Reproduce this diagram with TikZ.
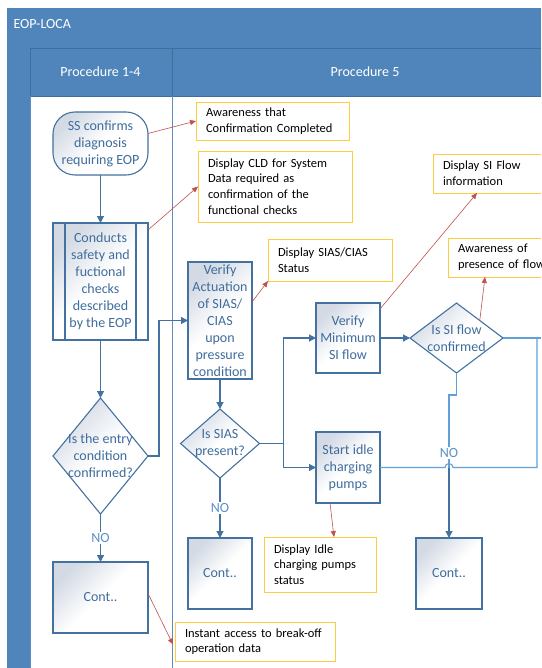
\documentclass[tikz,border=0pt]{standalone}
\usepackage{fontspec}
\setmainfont{Carlito}
\usetikzlibrary{shapes.geometric,arrows.meta}
\definecolor{poolblue}{HTML}{4F85BA}
\definecolor{poolline}{HTML}{3E6E9C}
\definecolor{laneline}{HTML}{5B8FC4}
\definecolor{flowblue}{HTML}{4472A0}
\definecolor{flowtext}{HTML}{3F6D9D}
\definecolor{notext}{HTML}{5A90C8}
\definecolor{loopblue}{HTML}{62A0D8}
\definecolor{shade}{HTML}{D3DAE4}
\definecolor{notegold}{HTML}{FFCC40}
\definecolor{calloutred}{HTML}{C0504D}
\newcommand{\flowfont}{\fontsize{14}{17}\selectfont}
\newcommand{\notefont}{\fontsize{12.5}{15.6}\selectfont}
\newcommand{\headfont}{\fontsize{14}{16}\selectfont}
\tikzset{
  stepbox/.style={draw=flowblue, line width=1.1pt, top color=shade, bottom color=white, middle color=white, shading angle=45, text=flowtext, font=\flowfont, align=center, inner sep=0pt, outer sep=0pt},
  termbox/.style={stepbox, rounded corners=22pt},
  decbox/.style={stepbox, diamond},
  dectext/.style={text=flowtext, font=\flowfont, align=center},
  notebox/.style={draw=notegold, line width=0.9pt, fill=white, font=\notefont, align=left, anchor=north west, inner xsep=10pt, inner ysep=0pt, outer sep=0pt},
  flowline/.style={draw=flowblue, line width=1.2pt, -{Triangle[length=7pt,width=7pt]}},
  loopline/.style={draw=loopblue, line width=1.1pt},
  callout/.style={draw=calloutred, line width=0.6pt, -{Triangle[length=6pt,width=5pt]}},
  nolabel/.style={fill=white, text=notext, font=\flowfont, inner sep=1pt}
}
\begin{document}
\begin{tikzpicture}[x=1pt,y=-1pt]
\useasboundingbox (0,0) rectangle (541,668);
\clip (0,0) rectangle (541,668);
\fill[poolblue] (7,8) rectangle (541,96);
\fill[poolblue] (7,96) rectangle (30,668);
\draw[poolline, line width=0.8pt] (30,48) -- (541,48);
\draw[poolline, line width=0.8pt] (30,48) -- (30,96) -- (541,96);
\draw[poolline, line width=0.8pt] (172,48) -- (172,96);
\draw[laneline, line width=0.6pt] (30,96) -- (30,668);
\draw[laneline, line width=1pt] (172,96) -- (172,668);
\node[anchor=west, text=white, font=\headfont] (pool) at (10,24) {EOP-LOCA};
\node[text=white, font=\headfont] (laneA) at (100.5,72) {Procedure 1-4};
\node[text=white, font=\headfont] (laneB) at (365,72) {Procedure 5};

\node[termbox, minimum width=95pt, minimum height=63pt] (ss) at (100.5,143.5) {SS confirms\\diagnosis\\requiring EOP};
\node[stepbox, minimum width=95pt, minimum height=117pt] (chk) at (100.5,281.5) {Conducts\\safety and\\fuctional\\checks\\described\\by the EOP};
\draw[flowblue, line width=1.1pt] ([xshift=12pt]chk.north west) -- ([xshift=12pt]chk.south west);
\draw[flowblue, line width=1.1pt] ([xshift=-12pt]chk.north east) -- ([xshift=-12pt]chk.south east);
\node[decbox, minimum width=95pt, minimum height=116pt, label={[dectext]center:{Is the entry\\condition\\confirmed?}}] (entry) at (100.5,456) {};
\node[stepbox, minimum width=95pt, minimum height=71pt] (contA) at (100.5,597.5) {Cont..};
\node[stepbox, minimum width=64pt, minimum height=117pt] (act) at (220,320.5) {Verify\\Actuation\\of SIAS/\\CIAS\\upon\\pressure\\condition};
\node[decbox, minimum width=79pt, minimum height=69pt, label={[dectext]center:{Is SIAS\\present?}}] (sias) at (220,443.5) {};
\node[stepbox, minimum width=64pt, minimum height=71pt] (contB) at (220,573.5) {Cont..};
\node[stepbox, minimum width=64pt, minimum height=70pt] (vmin) at (348,338) {Verify\\Minimum\\SI flow};
\node[stepbox, minimum width=64pt, minimum height=71pt] (idle) at (348,467.5) {Start idle\\charging\\pumps};
\node[decbox, minimum width=93pt, minimum height=70pt, label={[dectext]center:{Is SI flow\\confirmed}}] (siq) at (456.5,338) {};
\node[stepbox, minimum width=66pt, minimum height=71pt] (contC) at (449,573.5) {Cont..};

\node[notebox, text width=133pt, minimum height=38pt] (nconf) at (196,102) {Awareness that\\Confirmation Completed};
\node[notebox, text width=134pt, minimum height=71pt] (ncld) at (198,151) {Display CLD for System\\Data required as\\confirmation of the\\functional checks};
\node[notebox, text width=104pt, minimum height=42pt] (nsias) at (268,239) {Display SIAS/CIAS\\Status};
\node[notebox, text width=110pt, minimum height=39pt] (nsiflow) at (433,154) {Display SI Flow\\information};
\node[notebox, text width=105pt, minimum height=39pt] (nflow) at (448,238) {Awareness of\\presence of flow};
\node[notebox, text width=92pt, minimum height=55pt] (nidle) at (264,537) {Display Idle\\charging pumps\\status};
\node[notebox, text width=140pt, minimum height=39pt] (nbreak) at (175,622) {Instant access to break-off\\operation data};

\coordinate (hopL) at (445,467.5);
\coordinate (hopC) at (449,467.5);
\coordinate (loopR) at (537,338);
\coordinate (edgeR) at (541,338);

\draw[flowline] (ss.south) -- (chk.north);
\draw[flowline] (chk.south) -- (entry.north);
\draw[flowline] (entry.east) -- ++(11,0) |- (act.west);
\draw[flowline] (entry.south) -- node[nolabel] {NO} (contA.north);
\draw[flowline] (act.south) -- (sias.north);
\draw[flowline] (sias.south) -- node[nolabel] {NO} (contB.north);
\draw[flowline] (sias.east) -- ++(24,0) coordinate (fork) |- (vmin.west);
\draw[flowline] (fork) |- (idle.west);
\draw[flowline] (vmin.east) -- (siq.west);
\draw[loopline] (siq.east) -- (edgeR);
\draw[loopline] (idle.east) -- (hopL) arc (180:0:4pt) -- (idle.east -| loopR) -- (loopR);
\draw[loopline] (siq.south) -- ++(0,22) -| node[nolabel, pos=0.9] {NO} (hopC);
\draw[flowline] (hopC) -- (contC.north);

\draw[callout] ([yshift=10pt]ss.east) -- (nconf.west);
\draw[callout] ([yshift=-7pt]chk.north east) -- (ncld.west);
\draw[callout] ([yshift=-40pt]act.north east) -- (nsias.south west);
\draw[callout] ([yshift=-6pt]vmin.north east) -- ([xshift=44pt]nsiflow.south west);
\draw[callout] (siq.north east) -- ([xshift=37pt]nflow.south west);
\draw[callout] ([xshift=-18pt]idle.south) -- ([xshift=70pt]nidle.north west);
\draw[callout] ([yshift=4pt]contA.east) -- ([xshift=-2pt,yshift=-3pt]nbreak.west);
\end{tikzpicture}
\end{document}
